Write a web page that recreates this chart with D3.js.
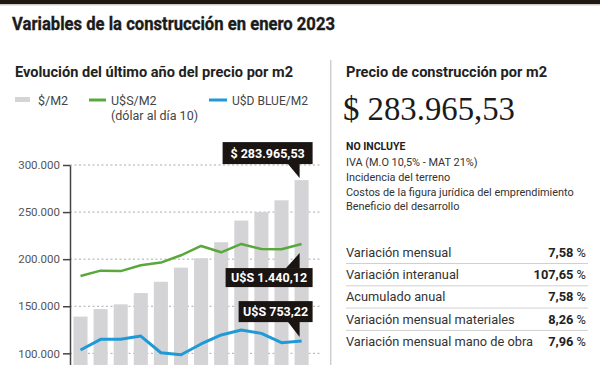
<!DOCTYPE html>
<html><head><meta charset="utf-8">
<script src="https://cdn.jsdelivr.net/npm/d3@7/dist/d3.min.js"></script>
<style>
html,body{margin:0;padding:0;background:#fff;}
svg{display:block;}
</style></head>
<body>
<svg id="chart" width="600" height="365"></svg>
<script>
// ---- data ----
const months = ["feb-22","mar-22","abr-22","may-22","jun-22","jul-22","ago-22","sep-22","oct-22","nov-22","dic-22","ene-23"];
const pesosM2 = [139000,147000,152000,164000,176000,191000,201000,218000,241000,250000,262500,283965.53];
const usdOficialM2 = [1214,1252,1249,1290,1309,1361,1427,1382,1441,1405,1403,1440.12];
const usdBlueM2 = [690,766,766,789,671,657,733,797,832,808,742,753.22];
const yTicks = [100000,150000,200000,250000,300000];
const usdScaleFactor = 150; // dollar lines plotted on the peso axis (x150)
const legendLabels = ["$/M2","U$S/M2","U$D BLUE/M2"];
const legendSub = "(dólar al día 10)";
const calloutTexts = ["$ 283.965,53","U$S 1.440,12","U$S 753,22"];
const bigPrice = "$ 283.965,53";
const excludedHeader = "NO INCLUYE";
const excludedItems = ["IVA (M.O 10,5% - MAT 21%)","Incidencia del terreno","Costos de la figura jurídica del emprendimiento","Beneficio del desarrollo"];
const varLabels = ["Variación mensual","Variación interanual","Acumulado anual","Variación mensual materiales","Variación mensual mano de obra"];
const varValues = ["7,58 %","107,65 %","7,58 %","8,26 %","7,96 %"];

const svg = d3.select("#chart");
const sans = "'Liberation Sans Narrow', 'Roboto', 'Liberation Sans', sans-serif";
const sansReg = "'Roboto','Liberation Sans', sans-serif";
const GRAY_BAR = "#d4d4d7", GREEN = "#5aa83b", BLUE = "#1f9ad6", DARK = "#1a1512";

// top band
svg.append("rect").attr("x",0).attr("y",0).attr("width",600).attr("height",4).attr("fill","#1e1813");
svg.append("line").attr("x1",0).attr("x2",600).attr("y1",4.8).attr("y2",4.8).attr("stroke","#b8b4ae").attr("stroke-width",1);

// title
svg.append("text").attr("x",12).attr("y",30).attr("font-family",sans).attr("font-weight","bold")
  .attr("font-size",18).attr("fill","#1b1b1b").attr("stroke","#1b1b1b").attr("stroke-width",0.35)
  .attr("textLength",323).attr("lengthAdjust","spacingAndGlyphs")
  .text("Variables de la construcción en enero 2023");

// divider
svg.append("line").attr("x1",330.7).attr("x2",330.7).attr("y1",60).attr("y2",365).attr("stroke","#cfcfcf").attr("stroke-width",1.5);

// left subtitle
svg.append("text").attr("x",15).attr("y",77).attr("font-family",sansReg).attr("font-weight","bold")
  .attr("font-size",14).attr("fill","#222").attr("textLength",278).attr("lengthAdjust","spacingAndGlyphs")
  .text("Evolución del último año del precio por m2");

// legend
const lg = svg.append("g").attr("font-family",sansReg).attr("font-size",12.5).attr("fill","#444");
lg.append("rect").attr("x",15).attr("y",97).attr("width",15).attr("height",5).attr("fill",GRAY_BAR);
lg.append("text").attr("x",38).attr("y",105).text(legendLabels[0]);
lg.append("line").attr("x1",89).attr("x2",106).attr("y1",100).attr("y2",100).attr("stroke",GREEN).attr("stroke-width",3);
lg.append("text").attr("x",111).attr("y",105).text(legendLabels[1]);
lg.append("text").attr("x",111).attr("y",120).text(legendSub);
lg.append("line").attr("x1",209).attr("x2",227).attr("y1",100).attr("y2",100).attr("stroke",BLUE).attr("stroke-width",3);
lg.append("text").attr("x",232).attr("y",105).attr("textLength",76).attr("lengthAdjust","spacingAndGlyphs").text(legendLabels[2]);

// scales
const x = d3.scaleBand().domain(months).range([70.45, 311.65]).paddingInner(0.3).paddingOuter(0.15);
const y = d3.scaleLinear().domain([0, 300000]).range([447.5, 165]);
const yUsd = d3.scaleLinear().domain([0, 300000/usdScaleFactor]).range([447.5, 165]);
const loc = d3.formatLocale({thousands:".", decimal:",", grouping:[3], currency:["$",""]});
const fmt = loc.format(",.0f");

// gridlines
svg.append("g").selectAll("line").data(yTicks).join("line")
  .attr("x1",70).attr("x2",320).attr("y1",d=>y(d)).attr("y2",d=>y(d))
  .attr("stroke","#aaa").attr("stroke-width",1).attr("stroke-dasharray","2,2.5");

// bars
svg.append("g").selectAll("rect").data(pesosM2).join("rect")
  .attr("x",(d,i)=>x(months[i])).attr("width",x.bandwidth())
  .attr("y",d=>y(d)).attr("height",d=>y(0)-y(d)).attr("fill",GRAY_BAR);

// axis
const ax = svg.append("g").attr("transform","translate(70,0)")
  .call(d3.axisLeft(y).tickValues(yTicks).tickFormat(fmt).tickSize(7).tickSizeOuter(0).tickPadding(3));
ax.select(".domain").attr("stroke","#444").attr("stroke-width",1.5);
ax.selectAll(".tick line").attr("stroke","#444").attr("stroke-width",1.5);
ax.selectAll(".tick text").attr("font-family",sansReg).attr("font-size",11.5).attr("fill","#555");

// lines
const cx = i => x(months[i]) + x.bandwidth()/2;
const lineGen = d3.line().x((d,i)=>cx(i)).y(d=>yUsd(d));
svg.append("path").datum(usdOficialM2).attr("d",lineGen).attr("fill","none").attr("stroke",GREEN).attr("stroke-width",2.5).attr("stroke-linejoin","round");
svg.append("path").datum(usdBlueM2).attr("d",lineGen).attr("fill","none").attr("stroke",BLUE).attr("stroke-width",3).attr("stroke-linejoin","round");

// callouts
const last = months.length - 1;
const lx = cx(last);
function callout(text, px, py, boxW, boxTop, boxH, pointerDown){
  const g = svg.append("g");
  const right = px + 13;
  g.append("rect").attr("x",right-boxW).attr("y",boxTop).attr("width",boxW).attr("height",boxH).attr("fill",DARK);
  if(pointerDown){
    g.append("path").attr("d",`M${px-12},${boxTop+boxH-0.5} L${px},${boxTop+boxH-0.5} L${px},${py} Z`).attr("fill",DARK);
  } else {
    g.append("path").attr("d",`M${px-14},${boxTop+0.5} L${px},${boxTop+0.5} L${px},${py} Z`).attr("fill",DARK);
  }
  g.append("text").attr("x",right-boxW/2).attr("y",boxTop+boxH/2+4.5).attr("text-anchor","middle")
    .attr("font-family",sansReg).attr("font-weight","bold").attr("font-size",12.5).attr("fill","#fff").text(text);
}
const pTop = y(pesosM2[last]);
callout(calloutTexts[0], lx-2, pTop-2, 90, pTop-38, 22, true);
const gY = yUsd(usdOficialM2[last]);
callout(calloutTexts[1], lx-2, gY+9, 87, gY+24, 19, false);
const bY = yUsd(usdBlueM2[last]);
callout(calloutTexts[2], lx-2, bY-4, 74, bY-40, 21, true);

// right panel
const rp = svg.append("g").attr("font-family",sansReg);
rp.append("text").attr("x",346).attr("y",77).attr("font-weight","bold").attr("font-size",14).attr("fill","#222")
  .attr("textLength",201).attr("lengthAdjust","spacingAndGlyphs").text("Precio de construcción por m2");
rp.append("text").attr("x",343).attr("y",120).attr("font-family","'Liberation Serif','DejaVu Serif',serif")
  .attr("font-size",34).attr("fill","#1b1b1b").attr("textLength",172).attr("lengthAdjust","spacingAndGlyphs").text(bigPrice);
rp.append("text").attr("x",346).attr("y",150).attr("font-weight","bold").attr("font-size",10.5).attr("fill","#222").text(excludedHeader);
rp.selectAll("text.ex").data(excludedItems).join("text").attr("class","ex")
  .attr("x",346).attr("y",(d,i)=>166+i*14.8).attr("font-size",10.9).attr("fill","#333").text(d=>d);

// variations table
const rowY = i => 256.7 + i*22.3;
rp.selectAll("line.sep").data(varLabels.slice(1)).join("line").attr("class","sep")
  .attr("x1",346).attr("x2",588).attr("y1",(d,i)=>rowY(i)+6.8).attr("y2",(d,i)=>rowY(i)+6.8)
  .attr("stroke","#d0d0d0").attr("stroke-width",1);
rp.selectAll("text.vl").data(varLabels).join("text").attr("class","vl")
  .attr("x",346).attr("y",(d,i)=>rowY(i)).attr("font-size",12.8).attr("fill","#333").text(d=>d);
rp.selectAll("text.vv").data(varValues).join("text").attr("class","vv")
  .attr("x",586).attr("y",(d,i)=>rowY(i)).attr("text-anchor","end").attr("font-size",12.8).attr("fill","#222")
  .each(function(d){
    const t = d3.select(this);
    const parts = d.split(" ");
    t.append("tspan").attr("font-weight","bold").text(parts[0]);
    t.append("tspan").text(" " + parts[1]);
  });
</script>
</body></html>
